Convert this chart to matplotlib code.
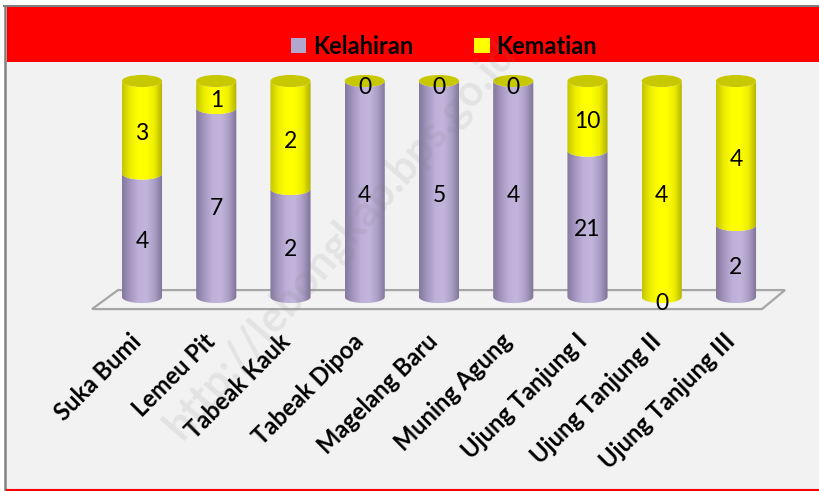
import numpy as np
import matplotlib
matplotlib.use('Agg')
import matplotlib.pyplot as plt
from matplotlib.patches import Polygon, Ellipse, Rectangle, Patch
from matplotlib.lines import Line2D
from matplotlib.colors import LinearSegmentedColormap

plt.rcParams['font.family'] = ['Lato', 'DejaVu Sans']

# data
categories = ['Suka Bumi', 'Lemeu Pit', 'Tabeak Kauk', 'Tabeak Dipoa',
              'Magelang Baru', 'Muning Agung', 'Ujung Tanjung I',
              'Ujung Tanjung II', 'Ujung Tanjung III']
kelahiran = [4, 7, 2, 4, 5, 4, 21, 0, 2]
kematian = [3, 1, 2, 0, 0, 0, 10, 4, 4]

W, H = 819, 491
fig = plt.figure(figsize=(W / 100, H / 100), dpi=100)

# frame: grey border, red header band, red bottom rule
fig.add_artist(Line2D([4 / W, 1], [1 - 6 / H, 1 - 6 / H], color='#808080', lw=1.5))
fig.add_artist(Line2D([5 / W, 5 / W], [1 - 6 / H, 1 - 490 / H], color='#808080', lw=1.8))
fig.add_artist(Rectangle((7 / W, 1 - 62 / H), 1 - 7 / W, 55 / H,
                         transform=fig.transFigure, color='#ff0000', lw=0))
fig.add_artist(Line2D([7 / W, 1], [1 - 490 / H, 1 - 490 / H], color='#ff0000', lw=1.5))

ax = fig.add_axes([7 / W, 2 / H, 1 - 7 / W, 427 / H])
ax.set_facecolor('#f2f2f2')
for s in ax.spines.values():
    s.set_visible(False)
ax.set_xticks([])
ax.set_yticks([])

hw = 0.27   # cylinder half width (category units)
eh = 2.8    # ellipse half height (percent units)

cm_lav = LinearSegmentedColormap.from_list(
    'lav', ['#85799e', '#a597c0', '#beb0d8', '#c2b5dc', '#ac9fc6', '#7e7296'])
cm_yel = LinearSegmentedColormap.from_list(
    'yel', ['#c4c400', '#eeee00', '#ffff00', '#ffff00', '#eded00', '#b0b000'])
grad = np.linspace(0, 1, 64).reshape(1, -1)

# floor
n = len(categories)
floor = Polygon([(-0.673, -5.6), (-0.323, 3.2), (n - 1 + 0.66, 3.2), (n - 1 + 0.35, -5.6)],
                closed=True, facecolor='none', edgecolor='#a6a6a6', lw=1.6, zorder=1)
ax.add_patch(floor)


def draw_segment(xc, y0, y1, cmap):
    t = np.linspace(np.pi, 2 * np.pi, 50)
    bot = np.column_stack([xc + hw * np.cos(t), y0 + eh * np.sin(t)])
    top = np.column_stack([xc + hw * np.cos(t[::-1]), y1 + eh * np.sin(t[::-1])])
    poly = Polygon(np.vstack([bot, top]), closed=True, facecolor='none',
                   edgecolor='none', zorder=2)
    ax.add_patch(poly)
    im = ax.imshow(grad, cmap=cmap, extent=(xc - hw, xc + hw, y0 - eh, y1 + eh),
                   aspect='auto', zorder=3, interpolation='bilinear')
    im.set_clip_path(poly)


for i, (a, b) in enumerate(zip(kelahiran, kematian)):
    tot = a + b
    p = 100.0 * a / tot
    if a > 0:
        draw_segment(i, 0, p, cm_lav)
    if b > 0:
        draw_segment(i, p, 100, cm_yel)
    ax.add_patch(Ellipse((i, 100), 2 * hw, 2 * eh, facecolor='#c8c800',
                         edgecolor='none', zorder=4))
    ax.text(i, p / 2 - eh, str(a), ha='center', va='center', fontsize=16.5, zorder=6)
    ax.text(i, (p + 100) / 2 - eh, str(b), ha='center', va='center', fontsize=16.5, zorder=6)
    ax.text(i - 0.17, -15, categories[i], rotation=45, rotation_mode='anchor',
            ha='right', va='top', fontsize=17, fontweight='bold', zorder=6)

ax.set_xlim(-1.818, 9.118)
ax.set_ylim(-88.9, 108.8)

fig.legend(handles=[Patch(facecolor='#b3a6cc', label='Kelahiran'),
                    Patch(facecolor='#ffff00', label='Kematian')],
           loc='center', bbox_to_anchor=(0.542, 0.906), ncol=2, frameon=False,
           prop={'weight': 'bold', 'size': 17}, handlelength=0.64, handleheight=0.64,
           handletextpad=0.3, columnspacing=2.6)

# faint watermark
fig.text(340 / W, 1 - 240 / H, 'http://lebongkab.bps.go.id', rotation=49,
         rotation_mode='anchor', ha='center', va='center', fontsize=31,
         fontweight='bold', color='#808080', alpha=0.13, zorder=10)

fig.savefig('out.png', dpi=100)
